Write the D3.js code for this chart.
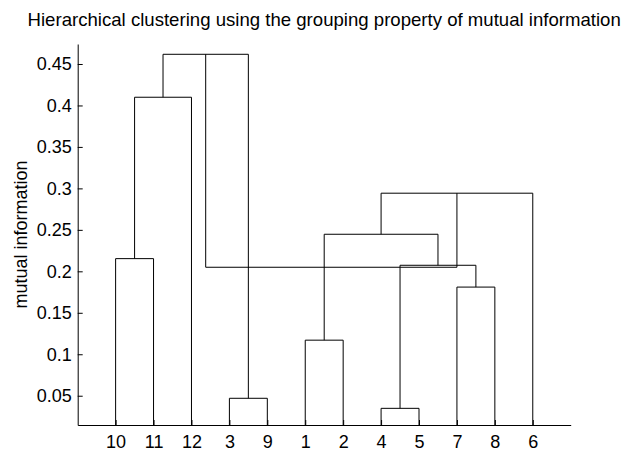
<!DOCTYPE html>
<html>
<head>
<meta charset="utf-8">
<script src="https://cdn.jsdelivr.net/npm/d3@7"></script>
<style>
  html, body { margin: 0; padding: 0; background: #fff; }
  svg { display: block; }
  text { font-family: "Liberation Sans", Arial, Helvetica, sans-serif; fill: #000; }
</style>
</head>
<body>
<svg id="chart" width="622" height="453"></svg>
<script>
// Leaf labels in the order they appear along the x axis
const leafOrder = [10, 11, 12, 3, 9, 1, 2, 4, 5, 7, 8, 6];

// Linkage rows: clusters 1..12 are the leaves, merged clusters are numbered 13, 14, ...
const mergeLeft   = [4, 3, 1, 7, 13, 10, 15, 19, 18, 21, 22];
const mergeRight  = [5, 9, 2, 8, 16, 11, 17, 6, 12, 14, 20];
const mergeHeight = [0.0348, 0.0469, 0.117, 0.181, 0.2073, 0.2153, 0.2447, 0.2942, 0.4099, 0.4617, 0.2049];

const yTicks = [0.05, 0.1, 0.15, 0.2, 0.25, 0.3, 0.35, 0.4, 0.45];
const yLimits = [0.0147, 0.4741];

const titleText = "Hierarchical clustering using the grouping property of mutual information";
const yLabelText = "mutual information";

const svg = d3.select("#chart");
const W = 622, H = 453;
const plot = { left: 77.7, right: 570.7, top: 44, bottom: 425 };

const nLeaves = leafOrder.length;
const x = d3.scaleLinear().domain([0, nLeaves + 1]).range([plot.left, plot.right]);
const y = d3.scaleLinear().domain(yLimits).range([plot.bottom, plot.top]);

svg.append("rect").attr("width", W).attr("height", H).attr("fill", "#fff");

// Node positions: leaves sit at their slot, merged clusters at the mean of their children
const nodeX = {}, nodeH = {};
leafOrder.forEach((leaf, i) => { nodeX[leaf] = i + 1; nodeH[leaf] = 0; });
mergeHeight.forEach((h, i) => {
  const id = nLeaves + 1 + i;
  const a = mergeLeft[i], b = mergeRight[i];
  nodeX[id] = (nodeX[a] + nodeX[b]) / 2;
  nodeH[id] = h;
});

svg.append("defs").append("clipPath").attr("id", "plotClip")
  .append("rect")
  .attr("x", plot.left).attr("y", plot.top)
  .attr("width", plot.right - plot.left).attr("height", plot.bottom - plot.top);

// Each merge is drawn as a U: up from child a, across, down to child b
const links = mergeHeight.map((h, i) => {
  const a = mergeLeft[i], b = mergeRight[i];
  return [
    [nodeX[a], nodeH[a]], [nodeX[a], h], [nodeX[b], h], [nodeX[b], nodeH[b]]
  ];
});

const line = d3.line().x(d => x(d[0])).y(d => y(d[1]));

svg.append("g").attr("clip-path", "url(#plotClip)")
  .selectAll("path").data(links).join("path")
  .attr("d", line)
  .attr("fill", "none")
  .attr("stroke", "#000")
  .attr("stroke-width", 1);

// Axes (ticks point inward)
const yAxis = d3.axisLeft(y).tickValues(yTicks).tickFormat(d3.format("~g"))
  .tickSizeInner(-5).tickSizeOuter(0).tickPadding(6);
const xAxis = d3.axisBottom(x).tickValues(d3.range(1, nLeaves + 1))
  .tickFormat(d => leafOrder[d - 1])
  .tickSizeInner(-5).tickSizeOuter(0).tickPadding(10);

const gy = svg.append("g").attr("transform", `translate(${plot.left},0)`).call(yAxis);
const gx = svg.append("g").attr("transform", `translate(0,${plot.bottom})`).call(xAxis);

[gx, gy].forEach(g => {
  g.select(".domain").attr("stroke", "#000");
  g.selectAll(".tick line").attr("stroke", "#000");
  g.selectAll(".tick text")
    .style("font-family", '"Liberation Sans", Arial, sans-serif')
    .style("font-size", "18px")
    .attr("fill", "#000");
});

svg.append("text")
  .attr("x", (plot.left + plot.right) / 2)
  .attr("y", 26)
  .attr("text-anchor", "middle")
  .style("font-size", "18.6px")
  .text(titleText);

svg.append("text")
  .attr("transform", `translate(27,${(plot.top + plot.bottom) / 2}) rotate(-90)`)
  .attr("text-anchor", "middle")
  .style("font-size", "18px")
  .text(yLabelText);
</script>
</body>
</html>
